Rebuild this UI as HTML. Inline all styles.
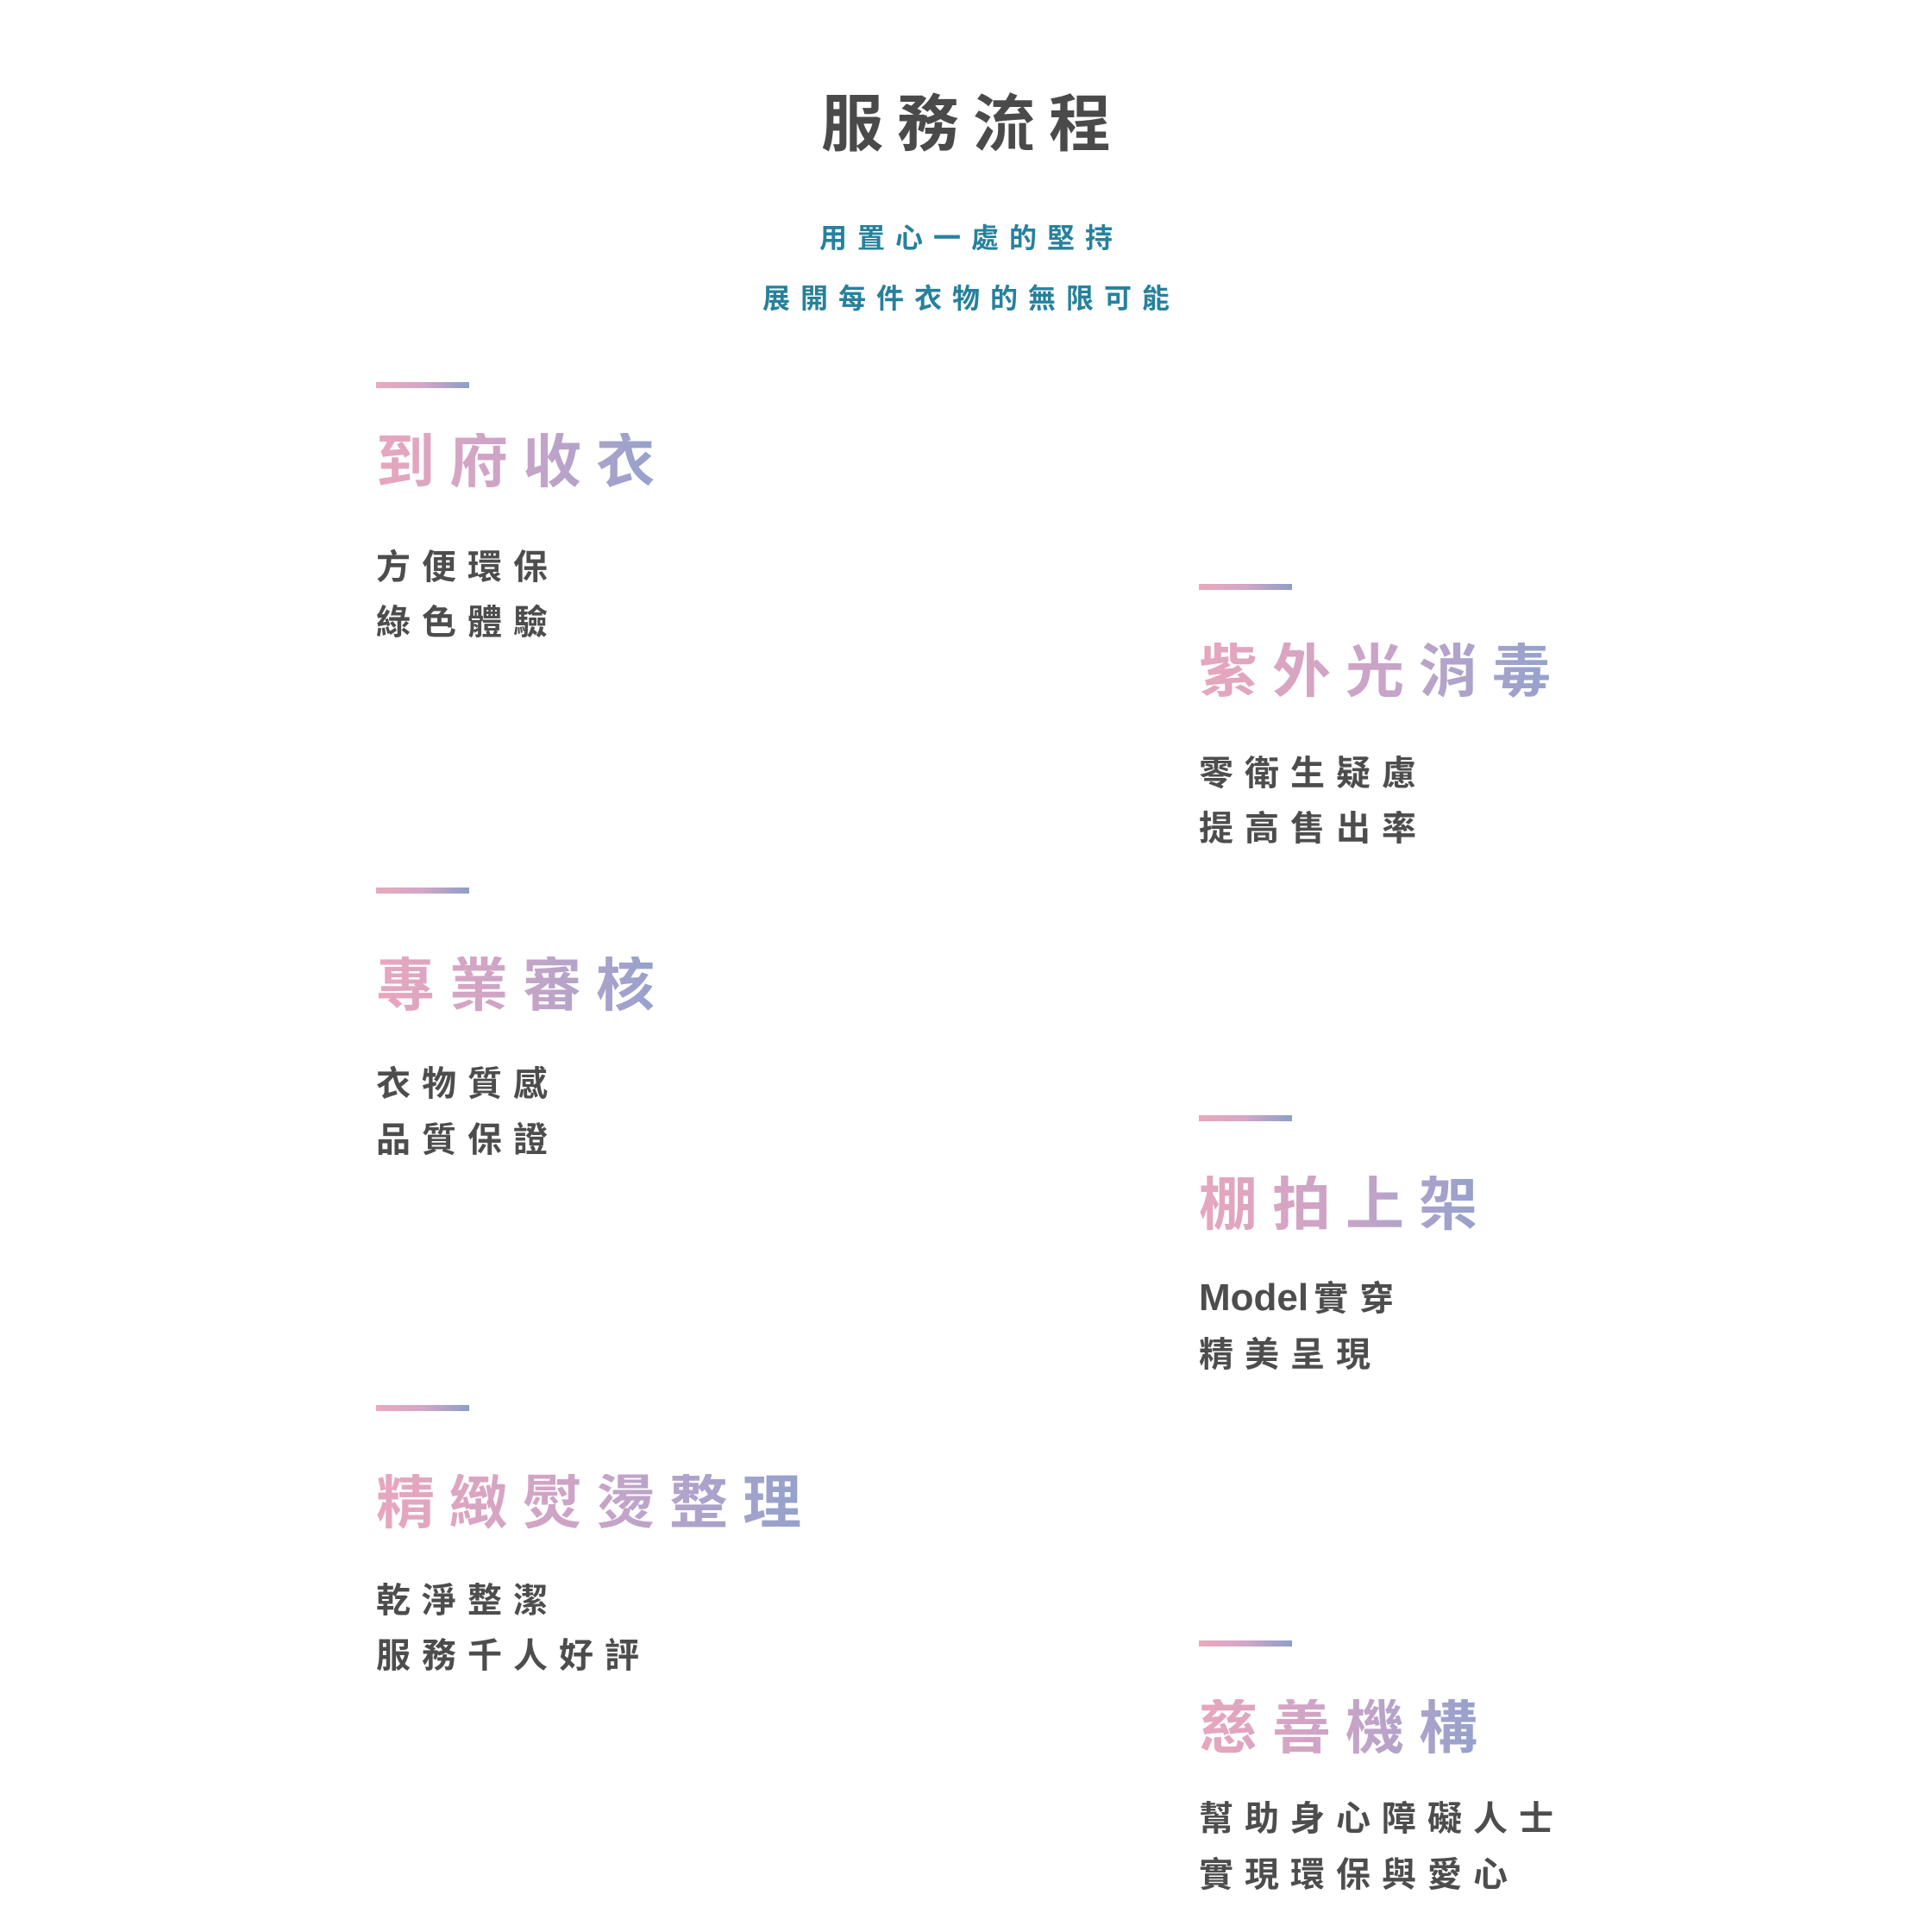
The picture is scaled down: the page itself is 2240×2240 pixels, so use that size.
<!DOCTYPE html>
<html><head><meta charset="utf-8"><style>
html,body{margin:0;padding:0;background:#fff;}
body{width:2240px;height:2240px;position:relative;overflow:hidden;font-family:"Liberation Sans","Noto Sans CJK TC",sans-serif;font-weight:700;}
.a{position:absolute;white-space:nowrap;}
.title{left:0;width:2240px;text-align:center;top:109px;font-size:72px;line-height:72px;color:#4a4a4a;letter-spacing:16px;text-indent:16px;}
.sub{left:0;width:2240px;text-align:center;font-size:32px;line-height:32px;color:#27819c;letter-spacing:12px;text-indent:12px;}
.bar{position:absolute;width:108px;height:7px;background:linear-gradient(90deg,#eaa9bc,#d4a6c7,#8b9fcb);}
.h{position:absolute;font-size:68px;line-height:68px;letter-spacing:17px;color:transparent;background:linear-gradient(90deg,#e8a6bd,#c9a4c8,#8fa1cd);-webkit-background-clip:text;background-clip:text;white-space:nowrap;}
.b{position:absolute;font-size:40px;line-height:40px;letter-spacing:13px;color:#4d4d4d;white-space:nowrap;}
</style></head><body>
<div class="a title">服務流程</div>
<div class="a sub" style="top:260px">用置心一處的堅持</div>
<div class="a sub" style="top:330px">展開每件衣物的無限可能</div>

<div class="bar" style="left:436px;top:443px"></div>
<div class="h" style="left:436px;top:502px">到府收衣</div>
<div class="b" style="left:436px;top:638px">方便環保</div>
<div class="b" style="left:436px;top:702px">綠色體驗</div>

<div class="bar" style="left:436px;top:1029px"></div>
<div class="h" style="left:436px;top:1109px">專業審核</div>
<div class="b" style="left:436px;top:1237px">衣物質感</div>
<div class="b" style="left:436px;top:1302px">品質保證</div>

<div class="bar" style="left:436px;top:1629px"></div>
<div class="h" style="left:436px;top:1709px">精緻熨燙整理</div>
<div class="b" style="left:436px;top:1836px">乾淨整潔</div>
<div class="b" style="left:436px;top:1900px">服務千人好評</div>

<div class="bar" style="left:1390px;top:677px"></div>
<div class="h" style="left:1390px;top:745px">紫外光消毒</div>
<div class="b" style="left:1390px;top:877px">零衛生疑慮</div>
<div class="b" style="left:1390px;top:941px">提高售出率</div>

<div class="bar" style="left:1390px;top:1293px"></div>
<div class="h" style="left:1390px;top:1363px">棚拍上架</div>
<div class="b" style="left:1390px;top:1485px"><span style="letter-spacing:0;font-size:44px;margin-right:6px">Model</span>實穿</div>
<div class="b" style="left:1390px;top:1551px">精美呈現</div>

<div class="bar" style="left:1390px;top:1902px"></div>
<div class="h" style="left:1390px;top:1970px">慈善機構</div>
<div class="b" style="left:1390px;top:2089px">幫助身心障礙人士</div>
<div class="b" style="left:1390px;top:2154px">實現環保與愛心</div>
</body></html>
